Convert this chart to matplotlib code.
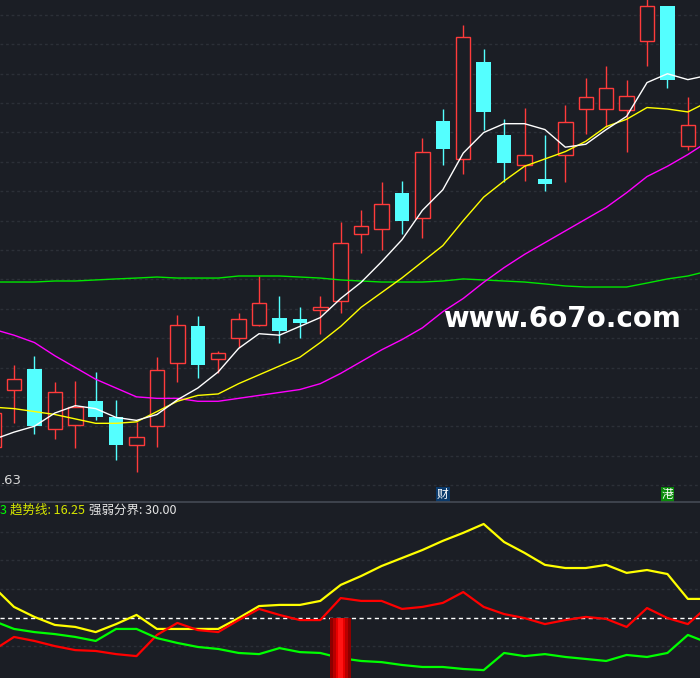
import matplotlib
matplotlib.use("Agg")
import matplotlib.pyplot as plt
import numpy as np

# candle data, index -1 .. 33 (first one is only half visible on the left)
opens = [6.89, 7.28, 7.42, 7.01, 7.04, 7.20, 7.09, 6.90, 7.03, 7.46, 7.71, 7.49, 7.63, 7.72, 7.77, 7.76, 7.82, 7.88,
         8.34, 8.37, 8.62, 8.45, 9.11, 8.85, 9.51, 9.01, 8.81, 8.71, 8.88, 9.19, 9.19, 9.18, 9.65, 9.89, 8.94]
highs = [7.17, 7.45, 7.51, 7.33, 7.34, 7.40, 7.21, 7.06, 7.50, 7.79, 7.78, 7.54, 7.80, 8.05, 7.92, 7.84, 7.92, 8.42,
         8.50, 8.69, 8.70, 8.99, 9.19, 9.76, 9.60, 9.12, 9.20, 9.01, 9.22, 9.40, 9.48, 9.39, 9.99, 9.89, 9.27]
lows = [6.85, 7.05, 6.98, 6.94, 6.88, 7.07, 6.80, 6.72, 6.89, 7.33, 7.36, 7.39, 7.57, 7.71, 7.60, 7.63, 7.66, 7.80,
        8.21, 8.23, 8.34, 8.31, 8.81, 8.75, 9.05, 8.69, 8.70, 8.63, 8.69, 9.02, 9.07, 8.90, 9.48, 9.33, 8.91]
closes = [7.12, 7.35, 7.03, 7.26, 7.16, 7.09, 6.90, 6.96, 7.41, 7.72, 7.45, 7.53, 7.76, 7.87, 7.68, 7.73, 7.84, 8.28,
          8.39, 8.54, 8.43, 8.90, 8.92, 9.68, 9.17, 8.82, 8.88, 8.68, 9.10, 9.27, 9.33, 9.28, 9.89, 9.39, 9.08]

# moving averages, index -1 .. 34 (they run past the right edge)
ma5 = [6.94, 6.99, 7.03, 7.12, 7.17, 7.15, 7.09, 7.07, 7.11, 7.21, 7.29, 7.40, 7.56, 7.66, 7.65, 7.71, 7.77, 7.90,
       8.01, 8.15, 8.30, 8.50, 8.64, 8.89, 9.03, 9.09, 9.09, 9.05, 8.93, 8.95, 9.05, 9.14, 9.37, 9.43, 9.39, 9.42]
ma10 = [7.16, 7.15, 7.13, 7.11, 7.08, 7.05, 7.05, 7.06, 7.13, 7.20, 7.24, 7.25, 7.32, 7.38, 7.44, 7.50, 7.60, 7.71,
        7.84, 7.94, 8.04, 8.15, 8.26, 8.43, 8.59, 8.70, 8.80, 8.85, 8.90, 8.97, 9.07, 9.12, 9.20, 9.19, 9.17, 9.24]
ma20 = [7.69, 7.65, 7.60, 7.51, 7.43, 7.35, 7.29, 7.23, 7.22, 7.22, 7.20, 7.20, 7.22, 7.24, 7.26, 7.28, 7.32, 7.39,
        7.47, 7.55, 7.62, 7.70, 7.81, 7.90, 8.01, 8.11, 8.20, 8.28, 8.36, 8.44, 8.52, 8.62, 8.73, 8.80, 8.88, 8.97]
ma60 = [8.012, 8.012, 8.012, 8.019, 8.019, 8.026, 8.033, 8.039, 8.046, 8.039, 8.039, 8.039, 8.053, 8.053, 8.053,
        8.046, 8.039, 8.026, 8.019, 8.012, 8.012, 8.012, 8.019, 8.033, 8.026, 8.019, 8.012, 7.999, 7.985, 7.978,
        7.978, 7.978, 8.005, 8.033, 8.053, 8.087]

# lower indicator panel
ind_yellow = [40.7, 33.7, 30.2, 27.4, 26.7, 24.9, 27.7, 30.9, 26.0, 26.0, 26.0, 26.0, 29.8, 34.0, 34.4, 34.4, 35.8,
              41.4, 44.5, 48.0, 50.8, 53.6, 56.8, 59.6, 62.7, 56.4, 52.6, 48.4, 47.3, 47.3, 48.4, 45.6, 46.6, 45.2,
              36.5, 36.5]
ind_red = [18.6, 23.2, 21.8, 20.0, 18.6, 18.3, 17.2, 16.5, 23.9, 28.1, 25.6, 24.9, 29.1, 33.0, 30.9, 29.1, 29.1,
           36.8, 35.8, 35.8, 33.0, 33.7, 35.1, 38.9, 33.7, 31.2, 29.8, 27.7, 29.1, 30.2, 29.5, 26.7, 33.3, 29.8,
           27.7, 34.0]
ind_green = [28.8, 26.0, 24.9, 24.2, 23.2, 21.8, 26.0, 26.0, 22.8, 21.1, 19.7, 19.0, 17.6, 17.2, 19.3, 17.9, 17.6,
             15.8, 14.8, 14.4, 13.4, 12.7, 12.7, 12.0, 11.6, 17.6, 16.5, 17.2, 16.2, 15.5, 14.8, 16.9, 16.2, 17.6,
             23.9, 21.1]
signal_bars = [16]      # bar index where the red line breaks above the boundary
boundary = 30.0
trend_value = 16.25

# event markers under the candles
marker_idx = [21, 32]
marker_text = ["财", "港"]
marker_bg = ["#0b3a6b", "#0a8a0a"]

price_low_label = 6.63
grid_step = 0.2

BG = "#1b1e25"
UP = "#ff3b3b"
DOWN = "#54ffff"
GRID = "#2c3038"

plt.rcParams["font.family"] = ["Noto Sans CJK SC", "DejaVu Sans"]

fig = plt.figure(figsize=(7, 6.78), dpi=100, facecolor=BG)
ax = fig.add_axes([0, 176 / 678, 1, 502 / 678], facecolor=BG)
ax2 = fig.add_axes([0, 0, 1, 176 / 678], facecolor=BG)

cx = np.arange(-1, -1 + len(opens))
lx = np.arange(-1, -1 + len(ma5))

# price grid
for i in range(17):
    ax.axhline(price_low_label + grid_step * i, color=GRID, lw=1, ls=(0, (2, 2)), zorder=0)

# candles
w = 0.71
for x, o, h, l, c in zip(cx, opens, highs, lows, closes):
    if c >= o:
        ax.vlines(x, l, o, color=UP, lw=1.0, zorder=2)
        ax.vlines(x, c, h, color=UP, lw=1.0, zorder=2)
        ax.bar(x, c - o, bottom=o, width=w, facecolor=BG, edgecolor=UP, lw=1.0, zorder=2)
    else:
        ax.vlines(x, l, h, color=DOWN, lw=1.0, zorder=2)
        ax.bar(x, o - c, bottom=c, width=w, color=DOWN, lw=0, zorder=3)

ax.plot(lx, ma60, color="#00e600", lw=1.0, zorder=4)
ax.plot(lx, ma20, color="#ff00ff", lw=1.0, zorder=4)
ax.plot(lx, ma10, color="#ffff00", lw=1.0, zorder=4)
ax.plot(lx, ma5, color="#ffffff", lw=1.0, zorder=5)

xl = (-14 / 20.42, 686 / 20.42)
ax.set_xlim(*xl)
ax.set_ylim(price_low_label - 17 * grid_step / 29.375, price_low_label + 485 * grid_step / 29.375)
ax.axis("off")

# markers
for k, t, bg in zip(marker_idx, marker_text, marker_bg):
    ax.text(k, 0.015, t, transform=ax.get_xaxis_transform(), ha="center", va="center",
            fontsize=8.5, color="white", zorder=6,
            bbox=dict(boxstyle="square,pad=0.08", fc=bg, ec="none"))

# lowest price label (its leading digit is cut off by the frame in the original)
fig.text(0.5 / 700, 1 - 481 / 678, f"{price_low_label:.2f}"[1:], ha="left", va="center",
         color="#d8d8d8", fontsize=9.5, family="DejaVu Sans")

# watermark
fig.text(443 / 700, 1 - 319 / 678, "www.6o7o.com", ha="left", va="center", color="white",
         fontsize=20, fontweight="bold", family="DejaVu Sans")

# lower panel
for v in [40, 50, 60, 20]:
    ax2.axhline(v, color=GRID, lw=1, ls=(0, (2, 2)), zorder=0)
ax2.axhline(boundary, color="white", lw=1.0, ls=(0, (3, 2.5)), zorder=1)
ax2.plot(lx, ind_yellow, color="#ffff00", lw=1.6, zorder=3)
ax2.plot(lx, ind_red, color="#ff0000", lw=1.6, zorder=3)
ax2.plot(lx, ind_green, color="#00ff00", lw=1.6, zorder=3)
for k in signal_bars:
    for bw, col in [(1.03, "#8c0000"), (0.75, "#b80000"), (0.45, "#e80000"), (0.25, "#ff1414")]:
        ax2.bar(k, boundary, width=bw, color=col, lw=0, zorder=4)
ax2.set_xlim(*xl)
ax2.set_ylim(30 - 60.5 / 2.86, 30 + 115.5 / 2.86)
ax2.axis("off")

# separator
fig.add_artist(plt.Line2D([0, 1], [176 / 678, 176 / 678], color="#454a55", lw=1.2))

# indicator legend
ly = 1 - 510 / 678
fig.text(0, ly, "3", color="#00ff00", fontsize=9, va="center", ha="left")
fig.text(10 / 700, ly, f"趋势线: {trend_value:.2f}", color="#d8e800", fontsize=9, va="center", ha="left")
fig.text(89 / 700, ly, f"强弱分界: {boundary:.2f}", color="#e6e6e6", fontsize=9, va="center", ha="left")

fig.savefig("out.png", dpi=100, facecolor=BG)
